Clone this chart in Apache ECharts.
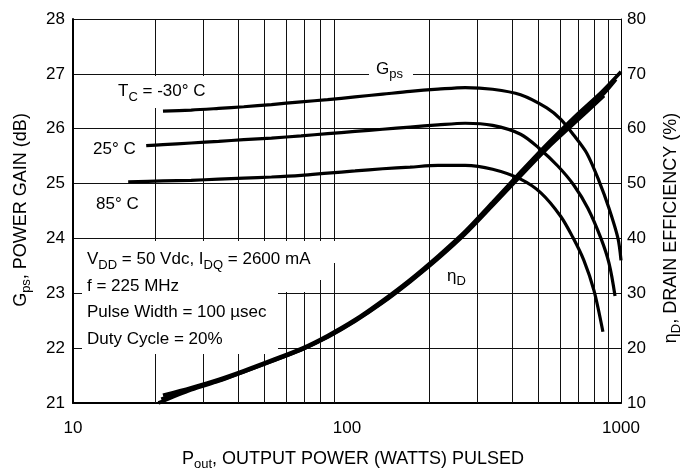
<!DOCTYPE html>
<html><head><meta charset="utf-8">
<script src="https://cdn.jsdelivr.net/npm/echarts@6/dist/echarts.min.js"></script>
<style>html,body{margin:0;padding:0;background:#fff}#c{width:683px;height:471px}</style>
</head><body><div id="c"></div>
<script>
// ---- data ----
const xTickValues = [10, 100, 1000];
const gridPowers = [20, 30, 40, 50, 60, 70, 80, 90, 200, 300, 400, 500, 600, 700, 800, 900];

// Power gain (dB) vs Pout (W)
const powerM30 = [21.3, 27, 34, 42, 53, 68, 85, 107, 135, 170, 215, 270, 340, 430, 536, 603, 673, 751, 831, 904, 975, 1000];
const gainM30  = [26.32, 26.34, 26.37, 26.40, 26.44, 26.49, 26.53, 26.58, 26.63, 26.68, 26.72, 26.75, 26.72, 26.62, 26.38, 26.17, 25.88, 25.55, 25.05, 24.55, 24.0, 23.6];

const power25 = [18.5, 21.3, 27, 34, 42, 53, 68, 85, 107, 135, 170, 215, 270, 340, 430, 501, 588, 673, 757, 845, 904, 951];
const gain25  = [25.69, 25.71, 25.74, 25.77, 25.80, 25.83, 25.87, 25.91, 25.95, 25.99, 26.03, 26.07, 26.10, 26.06, 25.90, 25.65, 25.32, 24.97, 24.55, 24.0, 23.55, 22.95];

const power85 = [15.9, 21.3, 27, 34, 42, 53, 68, 85, 107, 135, 170, 215, 270, 340, 430, 510, 603, 667, 732, 797, 859];
const gain85  = [25.03, 25.05, 25.06, 25.08, 25.10, 25.12, 25.15, 25.19, 25.23, 25.27, 25.30, 25.33, 25.33, 25.26, 25.08, 24.83, 24.40, 24.02, 23.60, 23.05, 22.30];

// Drain efficiency (%) vs Pout (W), three nearly coincident traces
const effPowerA = [21.3, 27, 34, 42, 53, 68, 85, 107, 135, 170, 215, 270, 340, 430, 540, 675, 850, 1000];
const effA      = [11.4, 12.8, 14.3, 15.9, 17.8, 19.9, 22.3, 25.2, 28.7, 32.5, 36.8, 41.3, 46.6, 52.1, 57.3, 62.1, 66.7, 70.4];
const effPowerB = [20.5, 27, 34, 42, 53, 68, 85, 107, 135, 170, 215, 270, 340, 430, 540, 675, 850, 958];
const effB      = [10.0, 12.4, 14.0, 15.7, 17.6, 19.7, 22.1, 25.0, 28.4, 32.2, 36.5, 41.0, 46.3, 51.8, 57.0, 61.6, 66.0, 69.0];
const effPowerC = [21, 27, 34, 42, 53, 68, 85, 107, 135, 170, 215, 270, 340, 430, 540, 675, 867];
const effC      = [10.7, 12.6, 14.1, 15.7, 17.6, 19.7, 22.0, 24.9, 28.3, 32.1, 36.3, 40.8, 46.0, 51.4, 56.5, 61.0, 66.0];

// ---- chart ----
const FONT = "'Liberation Sans', Arial, Helvetica, sans-serif";
const zip = (xs, ys) => xs.map((x, i) => [x, ys[i]]);
const curve = (xs, ys, axis, w) => ({
  type: 'line', data: zip(xs, ys), yAxisIndex: axis, symbol: 'none', showSymbol: false,
  smooth: 0.3, lineStyle: { color: '#000', width: w, cap: 'butt' }, z: 10, silent: true, animation: false
});
const sub = { fontSize: 13, verticalAlign: 'bottom', fontFamily: FONT, fill: '#000' };
const txt = (x, y, text, extra) => Object.assign({
  type: 'text', x, y, z: 20, silent: true,
  style: Object.assign({ text, fill: '#000', fontSize: 17, fontFamily: FONT, lineHeight: 24,
    align: 'left', verticalAlign: 'middle', rich: { sub } }, extra || {})
});
const rect = (x, y, w, h) => ({ type: 'rect', z: 7, silent: true, shape: { x, y, width: w, height: h }, style: { fill: '#fff' } });

const chart = echarts.init(document.getElementById('c'), null, { renderer: 'canvas' });
chart.setOption({
  animation: false,
  backgroundColor: '#fff',
  grid: { left: 73, right: 62, top: 19, bottom: 68 },
  xAxis: {
    type: 'log', logBase: 10, min: xTickValues[0], max: xTickValues[xTickValues.length - 1],
    axisLine: { lineStyle: { color: '#000', width: 2 } },
    axisTick: { show: false }, splitLine: { show: false },
    axisLabel: { color: '#000', fontSize: 17, fontFamily: FONT, margin: 17,
      formatter: v => String(Math.round(v)) }
  },
  yAxis: [
    { type: 'value', min: 21, max: 28, interval: 1,
      axisLine: { show: true, lineStyle: { color: '#000', width: 2 } },
      axisTick: { show: false },
      splitLine: { show: true, lineStyle: { color: '#111', width: 1 } },
      axisLabel: { color: '#000', fontSize: 17, fontFamily: FONT, margin: 8 } },
    { type: 'value', min: 10, max: 80, interval: 10, position: 'right',
      axisLine: { show: true, lineStyle: { color: '#000', width: 1 } },
      axisTick: { show: false }, splitLine: { show: false },
      axisLabel: { color: '#000', fontSize: 17, fontFamily: FONT, margin: 6 } }
  ],
  series: [
    { type: 'line', data: [[10, 21]], symbol: 'none', lineStyle: { width: 0 }, z: 1, silent: true,
      markLine: { silent: true, z: 1, symbol: ['none', 'none'], label: { show: false }, animation: false,
        lineStyle: { color: '#111', width: 1, type: 'solid' },
        data: gridPowers.map(v => ({ xAxis: v })) } },
    curve(powerM30, gainM30, 0, 3.2),
    curve(power25, gain25, 0, 3.2),
    curve(power85, gain85, 0, 3.2),
    curve(effPowerA, effA, 1, 3.6),
    curve(effPowerB, effB, 1, 3.6),
    curve(effPowerC, effC, 1, 3.6)
  ],
  graphic: [
    rect(82, 241, 255, 22),
    rect(82, 263, 241, 17),
    rect(82, 280, 228, 12),
    rect(82, 292, 196, 62),
    rect(112, 76, 103, 32),
    rect(369, 60, 44, 26),
    txt(118, 91.5, 'T{sub|C} = -30° C'),
    txt(93, 149, '25° C'),
    txt(96, 204, '85° C'),
    txt(376, 69, 'G{sub|ps}'),
    txt(447, 276, 'η{sub|D}'),
    txt(87, 259.5, 'V{sub|DD} = 50 Vdc, I{sub|DQ} = 2600 mA'),
    txt(87, 286.5, 'f = 225 MHz'),
    txt(87, 312.5, 'Pulse Width = 100 µsec'),
    txt(87, 339, 'Duty Cycle = 20%'),
    txt(353, 459, 'P{sub|out}, OUTPUT POWER (WATTS) PULSED', { align: 'center', fontSize: 18 }),
    Object.assign(txt(21, 210, 'G{sub|ps}, POWER GAIN (dB)', { align: 'center', fontSize: 18 }), { rotation: Math.PI / 2 }),
    Object.assign(txt(671, 228, 'η{sub|D}, DRAIN EFFICIENCY (%)', { align: 'center', fontSize: 18 }), { rotation: Math.PI / 2 })
  ]
});
</script>
</body></html>
